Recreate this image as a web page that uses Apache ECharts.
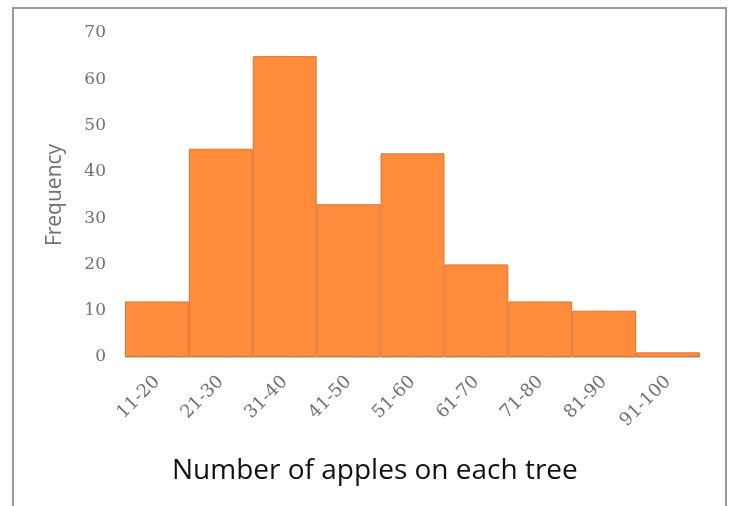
<!DOCTYPE html>
<html>
<head>
<meta charset="utf-8">
<script src="https://cdn.jsdelivr.net/npm/echarts@6/dist/echarts.min.js"></script>
<style>
  html, body { margin: 0; padding: 0; background: #fff; }
  #chart { width: 731px; height: 506px; }
</style>
</head>
<body>
<div id="chart"></div>
<script>
// apple count bins and how many trees fall in each
var bins = ['11-20', '21-30', '31-40', '41-50', '51-60', '61-70', '71-80', '81-90', '91-100'];
var frequency = [12, 45, 65, 33, 44, 20, 12, 10, 1];
var yTicks = [0, 70, 10]; // min, max, step

var myChart = echarts.init(document.getElementById('chart'));
var option = {
    animation: false,
    grid: {
        left: 125,
        right: 31,
        top: 33,
        bottom: 149
    },
    graphic: [
        {
            // outer frame of the picture
            type: 'rect',
            shape: { x: 13, y: 8, width: 713, height: 520 },
            style: { fill: 'none', stroke: '#9a9a9a', lineWidth: 2 },
            silent: true
        },
        {
            type: 'text',
            left: 172,
            top: 457,
            style: {
                text: 'Number of apples on each tree',
                fill: '#111',
                font: '28px "Open Sans"'
            }
        }
    ],
    xAxis: {
        type: 'category',
        data: bins,
        axisLine: { lineStyle: { color: '#c8c8c8', width: 1 } },
        axisTick: { show: false },
        axisLabel: {
            rotate: 45,
            margin: 22,
            color: '#707070',
            fontFamily: 'DejaVu Serif',
            fontSize: 18
        }
    },
    yAxis: {
        type: 'value',
        min: yTicks[0],
        max: yTicks[1],
        interval: yTicks[2],
        name: 'Frequency',
        nameLocation: 'middle',
        nameGap: 59,
        nameTextStyle: {
            color: '#707070',
            fontFamily: 'Open Sans',
            fontSize: 21
        },
        axisLine: { show: false },
        axisTick: { show: false },
        splitLine: { show: false },
        axisLabel: {
            margin: 19,
            color: '#707070',
            fontFamily: 'DejaVu Serif',
            fontSize: 17
        }
    },
    series: [
        {
            type: 'bar',
            data: frequency,
            barCategoryGap: 0,
            itemStyle: {
                color: '#FF8C3A',
                borderColor: '#D9762F',
                borderWidth: 1
            }
        }
    ]
};
myChart.setOption(option);
</script>
</body>
</html>
